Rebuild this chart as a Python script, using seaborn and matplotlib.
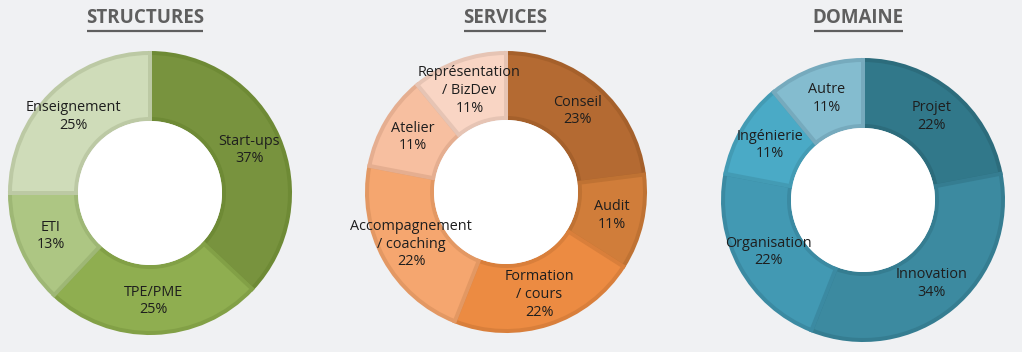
import matplotlib
matplotlib.use("Agg")
import matplotlib.pyplot as plt
import seaborn as sns
import numpy as np
from matplotlib.patches import Circle

# ---- data ----
titles = ["STRUCTURES", "SERVICES", "DOMAINE"]

struct_labels = ["Start-ups", "TPE/PME", "ETI", "Enseignement"]
struct_values = [37, 25, 13, 25]
struct_colors = ["#78933e", "#8fae50", "#adc683", "#cfdcb9"]
struct_edges = ["#6e8a35", "#82a046", "#9eb775", "#bcc9a4"]

serv_labels = ["Conseil", "Audit", "Formation\n/ cours", "Accompagnement\n/ coaching",
               "Atelier", "Représentation\n/ BizDev"]
serv_values = [23, 11, 22, 22, 11, 11]
serv_colors = ["#b46a32", "#d07d3a", "#ec8b42", "#f5a66f", "#f7bfa0", "#f9d5c4"]
serv_edges = ["#a5602b", "#bf7233", "#d97f3b", "#e39863", "#e5ae90", "#e6c4b4"]

dom_labels = ["Projet", "Innovation", "Organisation", "Ingénierie", "Autre"]
dom_values = [22, 34, 22, 11, 11]
dom_colors = ["#31788a", "#3c8aa0", "#4299b3", "#4aaac6", "#84bccf"]
dom_edges = ["#2c6c7c", "#357d91", "#3b8aa2", "#439bb4", "#76aabd"]

# ---- style ----
sns.set_theme(style="white")
plt.rcParams["font.family"] = ["Open Sans", "DejaVu Sans"]

BG = "#f0f1f3"
W, H = 1022, 352
fig = plt.figure(figsize=(W / 100, H / 100), dpi=100, facecolor=BG)
ax = fig.add_axes([0, 0, 1, 1])
ax.set_facecolor(BG)

groups = [
    (struct_labels, struct_values, struct_colors, struct_edges, (150, H - 193), 142, 145),
    (serv_labels, serv_values, serv_colors, serv_edges, (506, H - 192), 141, 505),
    (dom_labels, dom_values, dom_colors, dom_edges, (863, H - 200), 142, 858),
]

inner = 72
lw_px = 4.0
for (labels, values, colors, edges, center, r, tx), title in zip(groups, titles):
    ro = r - lw_px / 2
    wedges, _ = ax.pie(values, colors=colors, startangle=90, counterclock=False,
                       radius=ro, center=center, frame=True,
                       wedgeprops=dict(width=ro - inner - lw_px / 2,
                                       linewidth=lw_px * 72 / 100))
    for w, ec in zip(wedges, edges):
        w.set_edgecolor(ec)
    ax.add_patch(Circle(center, inner, facecolor="white", edgecolor="none", zorder=3))
    for w, lab, v in zip(wedges, labels, values):
        ang = np.deg2rad((w.theta1 + w.theta2) / 2)
        rl = 108
        x = center[0] + rl * np.cos(ang)
        y = center[1] + rl * np.sin(ang)
        ax.text(x, y, f"{lab}\n{v}%", ha="center", va="center", fontsize=10.4,
                color="#1e1e1e", linespacing=1.25, zorder=5)
    ax.text(tx, H - 18, title, ha="center", va="center", fontsize=13.5,
            fontweight="bold", color="#5f5f5f", zorder=5)

ax.set_xlim(0, W)
ax.set_ylim(0, H)
ax.set_aspect("equal")
ax.axis("off")

# underline titles
fig.canvas.draw()
renderer = fig.canvas.get_renderer()
inv = ax.transData.inverted()
for txt in ax.texts:
    if txt.get_text() in titles:
        bb = txt.get_window_extent(renderer)
        (x0, y0), (x1, y1) = inv.transform([[bb.x0, bb.y0], [bb.x1, bb.y1]])
        ax.plot([x0 + 1, x1 - 1], [H - 30.5, H - 30.5], color="#5f5f5f", lw=1.6,
                solid_capstyle="butt")

fig.savefig("out.png", dpi=100, facecolor=BG)
